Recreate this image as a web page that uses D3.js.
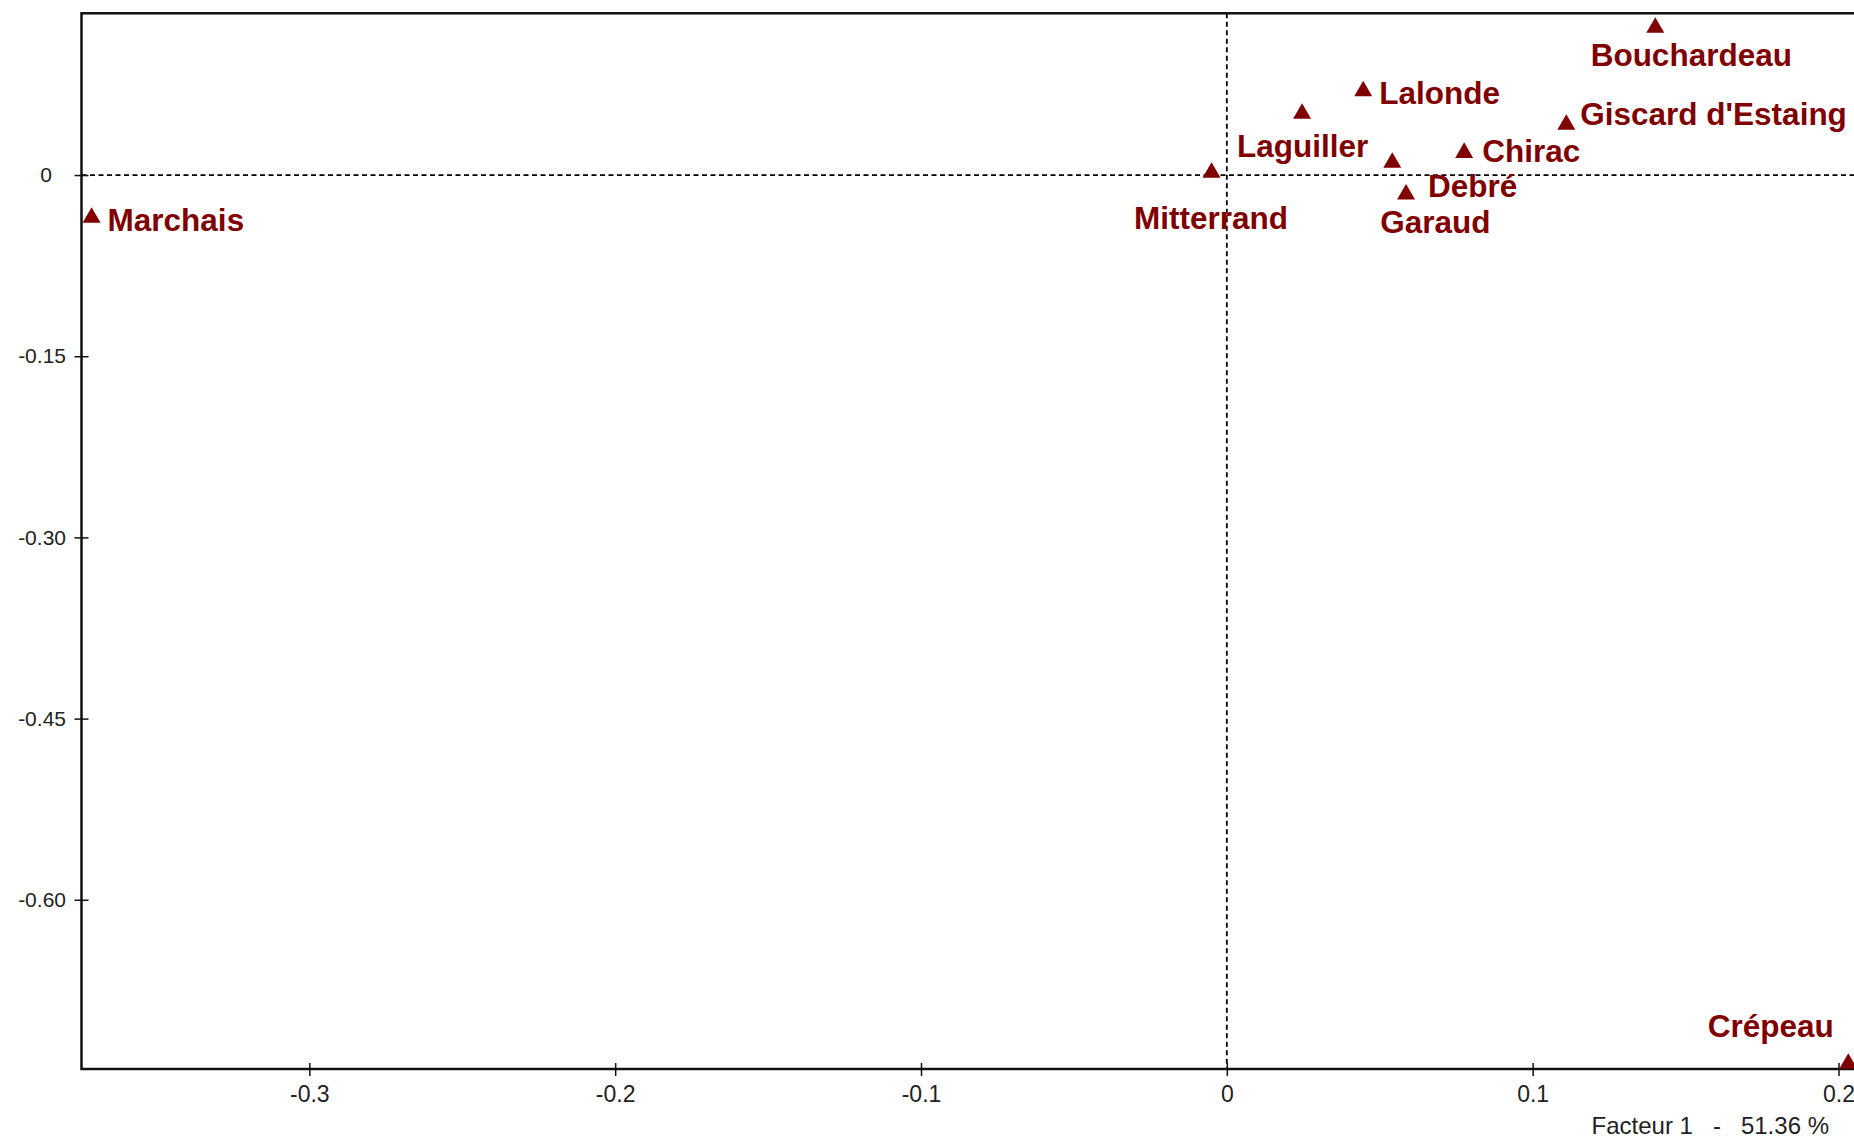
<!DOCTYPE html>
<html>
<head>
<meta charset="utf-8" />
<title>Plan factoriel - candidats</title>
<script src="https://d3js.org/d3.v7.min.js"></script>
<style>
  body { margin: 0; background: #fff; }
  svg { display: block; background: #fff; }
  .xaxis .tick text { font-family: "Liberation Sans", Arial, sans-serif; font-size: 23px; fill: #222; }
  .yaxis .tick text { font-family: "Liberation Sans", Arial, sans-serif; font-size: 21px; fill: #222; }
  .lbl { font-family: "Liberation Sans", Arial, sans-serif; font-weight: bold; font-size: 31.5px; fill: #800000; }
  .title { font-family: "Liberation Sans", Arial, sans-serif; font-size: 24px; fill: #222; white-space: pre; }
</style>
</head>
<body>
<svg width="1854" height="1138"></svg>
<script>
const candidates = ["Marchais", "Mitterrand", "Laguiller", "Lalonde", "Garaud",
                    "Debré", "Chirac", "Giscard d'Estaing", "Bouchardeau", "Crépeau"];
const factor1 = [-0.3712, -0.0050, 0.0246, 0.0446, 0.0541, 0.0586, 0.0776, 0.1110, 0.1401, 0.2032];
const factor2 = [-0.0353, 0.0020, 0.0508, 0.0695, 0.0103, -0.0160, 0.0185, 0.0417, 0.1220, -0.7356];

const xTicks = [-0.3, -0.2, -0.1, 0, 0.1, 0.2];
const xTickLabels = ["-0.3", "-0.2", "-0.1", "0", "0.1", "0.2"];
const yTicks = [0, -0.15, -0.30, -0.45, -0.60];
const yTickLabels = ["0", "-0.15", "-0.30", "-0.45", "-0.60"];
const xDomain = [-0.3745, 0.2054];
const yDomain = [-0.7401, 0.1339];
const axisTitle = "Facteur 1   -   51.36 %";

// where each name sits relative to its marker: [dx, dy, anchor]
const labelPlacement = [
  [16, 13.4, "start"], [-0.5, 56.5, "middle"], [0.5, 43.4, "middle"], [16, 13.4, "start"],
  [43, 70.4, "middle"], [22, 2.2, "start"], [18, 9, "start"], [14, 0.8, "start"],
  [36, 38.4, "middle"], [-77.5, -26.6, "middle"]
];

const svg = d3.select("svg");
const plotLeft = 81.5, plotTop = 13.3, plotRight = 1855, plotBottom = 1069;

const x = d3.scaleLinear().domain(xDomain).range([plotLeft, plotRight]);
const y = d3.scaleLinear().domain(yDomain).range([plotBottom, plotTop]);

const points = candidates.map((name, i) => ({ name, f1: factor1[i], f2: factor2[i], place: labelPlacement[i] }));

// zero lines
svg.append("line")
  .attr("x1", x(0)).attr("x2", x(0)).attr("y1", plotTop).attr("y2", plotBottom)
  .attr("stroke", "#000").attr("stroke-width", 1.8).attr("stroke-dasharray", "5,3.5");
svg.append("line")
  .attr("x1", plotLeft).attr("x2", plotRight).attr("y1", y(0)).attr("y2", y(0))
  .attr("stroke", "#000").attr("stroke-width", 1.8).attr("stroke-dasharray", "5,3.5");

// frame
svg.append("rect")
  .attr("x", plotLeft).attr("y", plotTop)
  .attr("width", plotRight + 3 - plotLeft).attr("height", plotBottom - plotTop)
  .attr("fill", "none").attr("stroke", "#111").attr("stroke-width", 2.5);

// axes
const xAxis = d3.axisBottom(x).tickValues(xTicks)
  .tickFormat((d, i) => xTickLabels[i]).tickSize(7).tickPadding(10);
const gx = svg.append("g").attr("class", "xaxis")
  .attr("transform", `translate(0,${plotBottom})`).call(xAxis);
gx.select(".domain").remove();
gx.selectAll(".tick line").attr("y1", -6).attr("stroke", "#111").attr("stroke-width", 1.5);

const yAxis = d3.axisLeft(y).tickValues(yTicks)
  .tickFormat((d, i) => yTickLabels[i]).tickSize(7).tickPadding(8.5);
const gy = svg.append("g").attr("class", "yaxis")
  .attr("transform", `translate(${plotLeft},0)`).call(yAxis);
gy.select(".domain").remove();
gy.selectAll(".tick line").attr("x1", 7).attr("stroke", "#111").attr("stroke-width", 1.5);
gy.selectAll(".tick text").filter(d => d === 0).attr("dx", -14);

svg.append("text")
  .attr("class", "title")
  .attr("x", 1829).attr("y", 1134)
  .attr("text-anchor", "end")
  .text(axisTitle);

// markers and names
const tri = d3.symbol(d3.symbolTriangle, 140);
svg.append("g").selectAll("path")
  .data(points)
  .join("path")
  .attr("d", tri)
  .attr("transform", d => `translate(${x(d.f1)},${y(d.f2)})`)
  .attr("fill", "#800000");

svg.append("g").selectAll("text")
  .data(points)
  .join("text")
  .attr("class", "lbl")
  .attr("x", d => x(d.f1) + d.place[0])
  .attr("y", d => y(d.f2) + d.place[1])
  .attr("text-anchor", d => d.place[2])
  .text(d => d.name);
</script>
</body>
</html>
